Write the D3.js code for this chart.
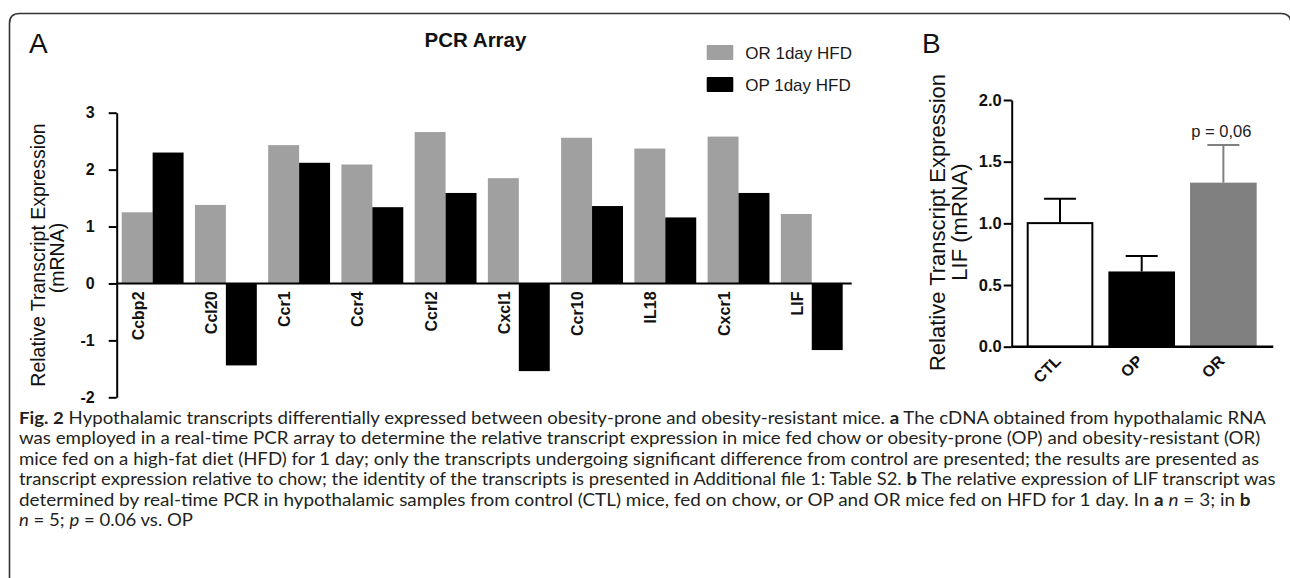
<!DOCTYPE html>
<html>
<head>
<meta charset="utf-8">
<script src="https://cdn.jsdelivr.net/npm/d3@7"></script>
<style>
  html, body { margin: 0; padding: 0; background: #fff; }
  svg { display: block; }
  .arial { font-family: "Liberation Sans", Arial, sans-serif; }
  .cap { font-family: Lato, "Open Sans", sans-serif; }
</style>
</head>
<body>
<svg id="chart" width="1290" height="578"></svg>
<script>
// ---------- data ----------
const categories = ["Ccbp2", "Ccl20", "Ccr1", "Ccr4", "Ccrl2", "Cxcl1", "Ccr10", "IL18", "Cxcr1", "LIF"];
const orValues = [1.25, 1.38, 2.43, 2.09, 2.66, 1.85, 2.56, 2.37, 2.58, 1.22];
const opValues = [2.30, -1.44, 2.12, 1.34, 1.59, -1.54, 1.36, 1.16, 1.59, -1.17];
const seriesNames = ["OR 1day HFD", "OP 1day HFD"];
const yTicksA = [-2, -1, 0, 1, 2, 3];

const bCategories = ["CTL", "OP", "OR"];
const bMeans = [1.01, 0.61, 1.33];
const bErrors = [0.19, 0.125, 0.305];
const yTicksB = [0, 0.5, 1.0, 1.5, 2.0];
const pLabel = "p = 0,06";

const captionLines = [
  [["Fig. 2", "b"], [" Hypothalamic transcripts differentially expressed between obesity-prone and obesity-resistant mice. ", ""], ["a", "b"], [" The cDNA obtained from hypothalamic RNA", ""]],
  [["was employed in a real-time PCR array to determine the relative transcript expression in mice fed chow or obesity-prone (OP) and obesity-resistant (OR)", ""]],
  [["mice fed on a high-fat diet (HFD) for 1 day; only the transcripts undergoing significant difference from control are presented; the results are presented as", ""]],
  [["transcript expression relative to chow; the identity of the transcripts is presented in Additional file 1: Table S2. ", ""], ["b", "b"], [" The relative expression of LIF transcript was", ""]],
  [["determined by real-time PCR in hypothalamic samples from control (CTL) mice, fed on chow, or OP and OR mice fed on HFD for 1 day. In ", ""], ["a", "b"], [" ", ""], ["n", "i"], [" = 3; in ", ""], ["b", "b"]],
  [["n", "i"], [" = 5; ", ""], ["p", "i"], [" = 0.06 vs. OP", ""]]
];
const captionEnds = [1265, 1260, 1258, 1275, 1250, 193];

// ---------- colours ----------
const colOR = "#a0a0a0", colOP = "#000000";
const barColorsB = ["#ffffff", "#000000", "#808080"];
const strokeColorsB = ["#000000", "#000000", "#808080"];

const svg = d3.select("#chart");

// frame
svg.append("path")
  .attr("d", "M9.5,600 V23.5 Q9.5,13.5 19.5,13.5 H1281 Q1291,13.5 1291,23.5 V600")
  .attr("fill", "none").attr("stroke", "#333").attr("stroke-width", 1.6);

// panel letters
svg.append("text").attr("class", "arial").attr("x", 29).attr("y", 53).attr("font-size", 28).attr("fill", "#111").text("A");
svg.append("text").attr("class", "arial").attr("x", 922).attr("y", 53).attr("font-size", 28).attr("fill", "#111").text("B");

// ================= Panel A =================
const yA = d3.scaleLinear().domain([-2, 3]).range([397.3, 112.7]);
const x0 = d3.scaleBand().domain(categories).range([121.7, 842.7]).paddingInner(0.155);
const x1 = d3.scaleBand().domain(seriesNames).range([0, x0.bandwidth()]);
const axisAx = 116.7;

const gA = svg.append("g").attr("class", "arial");

// bars
const groups = gA.selectAll("g.grp").data(categories).join("g")
  .attr("class", "grp")
  .attr("transform", d => `translate(${x0(d)},0)`);
groups.append("rect")
  .attr("x", x1(seriesNames[0])).attr("width", x1.bandwidth())
  .attr("y", (d, i) => yA(Math.max(0, orValues[i])))
  .attr("height", (d, i) => Math.abs(yA(orValues[i]) - yA(0)))
  .attr("fill", colOR);
groups.append("rect")
  .attr("x", x1(seriesNames[1])).attr("width", x1.bandwidth())
  .attr("y", (d, i) => yA(Math.max(0, opValues[i])))
  .attr("height", (d, i) => Math.abs(yA(opValues[i]) - yA(0)))
  .attr("fill", colOP);

// y axis
const axA = gA.append("g").attr("transform", `translate(${axisAx},0)`)
  .call(d3.axisLeft(yA).tickValues(yTicksA).tickFormat(d => String(d)).tickSize(8).tickSizeOuter(0).tickPadding(14));
axA.attr("font-family", null);
axA.select(".domain").attr("stroke", "#000").attr("stroke-width", 2);
axA.selectAll(".tick line").attr("stroke", "#000").attr("stroke-width", 2);
axA.selectAll(".tick text").attr("font-size", 16).attr("font-weight", "bold").attr("fill", "#111");

// zero line
gA.append("line").attr("x1", axisAx).attr("x2", 851.7).attr("y1", yA(0)).attr("y2", yA(0))
  .attr("stroke", "#000").attr("stroke-width", 2);

// category labels
gA.selectAll("text.cat").data(categories).join("text")
  .attr("class", "cat")
  .attr("transform", d => `translate(${x0(d) + x1(seriesNames[0]) + x1.bandwidth() / 2 + 6.5},${yA(0) + 8}) rotate(-90)`)
  .attr("text-anchor", "end").attr("font-size", 16).attr("font-weight", "bold").attr("fill", "#111")
  .text(d => d);

// y title
gA.append("text").attr("transform", "translate(45,255) rotate(-90)")
  .attr("text-anchor", "middle").attr("font-size", 19.5).attr("fill", "#111")
  .text("Relative Transcript Expression");
gA.append("text").attr("transform", "translate(64,258) rotate(-90)")
  .attr("text-anchor", "middle").attr("font-size", 19.5).attr("fill", "#111")
  .text("(mRNA)");

// title
gA.append("text").attr("x", 475.5).attr("y", 47).attr("text-anchor", "middle")
  .attr("font-size", 20.5).attr("font-weight", "bold").attr("fill", "#111").text("PCR Array");

// legend
const leg = gA.selectAll("g.leg").data(seriesNames).join("g").attr("class", "leg")
  .attr("transform", (d, i) => `translate(706.7,${45 + i * 32})`);
leg.append("rect").attr("width", 26.6).attr("height", 15).attr("rx", 1)
  .attr("fill", (d, i) => i === 0 ? colOR : colOP);
leg.append("text").attr("x", 38.5).attr("y", 13.5).attr("font-size", 17).attr("fill", "#1a1a1a").text(d => d);

// ================= Panel B =================
const yB = d3.scaleLinear().domain([0, 2]).range([346.7, 100]);
const xB = d3.scaleBand().domain(bCategories).range([1026.7, 1256.7]).paddingInner(0.184);
const axisBx = 1011.7;
const gB = svg.append("g").attr("class", "arial");

// error bars (behind bars)
const capW = xB.bandwidth() * 0.48;
bCategories.forEach((c, i) => {
  const cx = xB(c) + xB.bandwidth() / 2;
  gB.append("line").attr("x1", cx).attr("x2", cx)
    .attr("y1", yB(bMeans[i])).attr("y2", yB(bMeans[i] + bErrors[i]))
    .attr("stroke", strokeColorsB[i]).attr("stroke-width", 2);
  gB.append("line").attr("x1", cx - capW / 2).attr("x2", cx + capW / 2)
    .attr("y1", yB(bMeans[i] + bErrors[i])).attr("y2", yB(bMeans[i] + bErrors[i]))
    .attr("stroke", strokeColorsB[i]).attr("stroke-width", 2);
});

gB.selectAll("rect.bb").data(bCategories).join("rect").attr("class", "bb")
  .attr("x", d => xB(d) + 1).attr("width", xB.bandwidth() - 2)
  .attr("y", (d, i) => yB(bMeans[i]) + 1)
  .attr("height", (d, i) => yB(0) - yB(bMeans[i]) - 1)
  .attr("fill", (d, i) => barColorsB[i])
  .attr("stroke", (d, i) => strokeColorsB[i]).attr("stroke-width", 2);

const axB = gB.append("g").attr("transform", `translate(${axisBx},0)`)
  .call(d3.axisLeft(yB).tickValues(yTicksB).tickFormat(d3.format(".1f")).tickSize(8).tickSizeOuter(0).tickPadding(2));
axB.attr("font-family", null);
axB.select(".domain").attr("stroke", "#000").attr("stroke-width", 2);
axB.selectAll(".tick line").attr("stroke", "#000").attr("stroke-width", 2);
axB.selectAll(".tick text").attr("font-size", 16.5).attr("font-weight", "bold").attr("fill", "#111");

gB.append("line").attr("x1", axisBx).attr("x2", 1273.3).attr("y1", yB(0)).attr("y2", yB(0))
  .attr("stroke", "#000").attr("stroke-width", 2.5);

gB.selectAll("text.bcat").data(bCategories).join("text").attr("class", "bcat")
  .attr("transform", d => `translate(${xB(d) + xB.bandwidth() / 2 + 2},362) rotate(-45)`)
  .attr("text-anchor", "end").attr("font-size", 16).attr("font-weight", "bold").attr("fill", "#111")
  .text(d => d);

gB.append("text").attr("x", xB("OR") + xB.bandwidth() / 2 - 2).attr("y", yB(bMeans[2] + bErrors[2]) - 8)
  .attr("text-anchor", "middle").attr("font-size", 16.5).attr("fill", "#222").text(pLabel);

gB.append("text").attr("transform", "translate(945,222.5) rotate(-90)")
  .attr("text-anchor", "middle").attr("font-size", 22).attr("fill", "#111")
  .text("Relative Transcript Expression");
gB.append("text").attr("transform", "translate(967,222) rotate(-90)")
  .attr("text-anchor", "middle").attr("font-size", 22).attr("fill", "#111")
  .text("LIF (mRNA)");

// ================= Caption =================
const capX = 19, capY0 = 424, capDY = 20.4;
captionLines.forEach((segs, li) => {
  const t = svg.append("text").attr("class", "cap").attr("x", 0).attr("y", 0)
    .attr("font-size", 16.8).attr("fill", "#231f20")
    .attr("xml:space", "preserve").style("white-space", "pre");
  segs.forEach(([s, st]) => {
    const ts = t.append("tspan").text(s);
    if (st === "b") ts.attr("font-weight", "bold");
    if (st === "i") ts.attr("font-style", "italic");
  });
  const len = t.node().getComputedTextLength();
  const sx = (captionEnds[li] - capX) / len;
  t.attr("transform", `translate(${capX},${capY0 + li * capDY}) scale(${sx},1)`);
});
</script>
</body>
</html>
